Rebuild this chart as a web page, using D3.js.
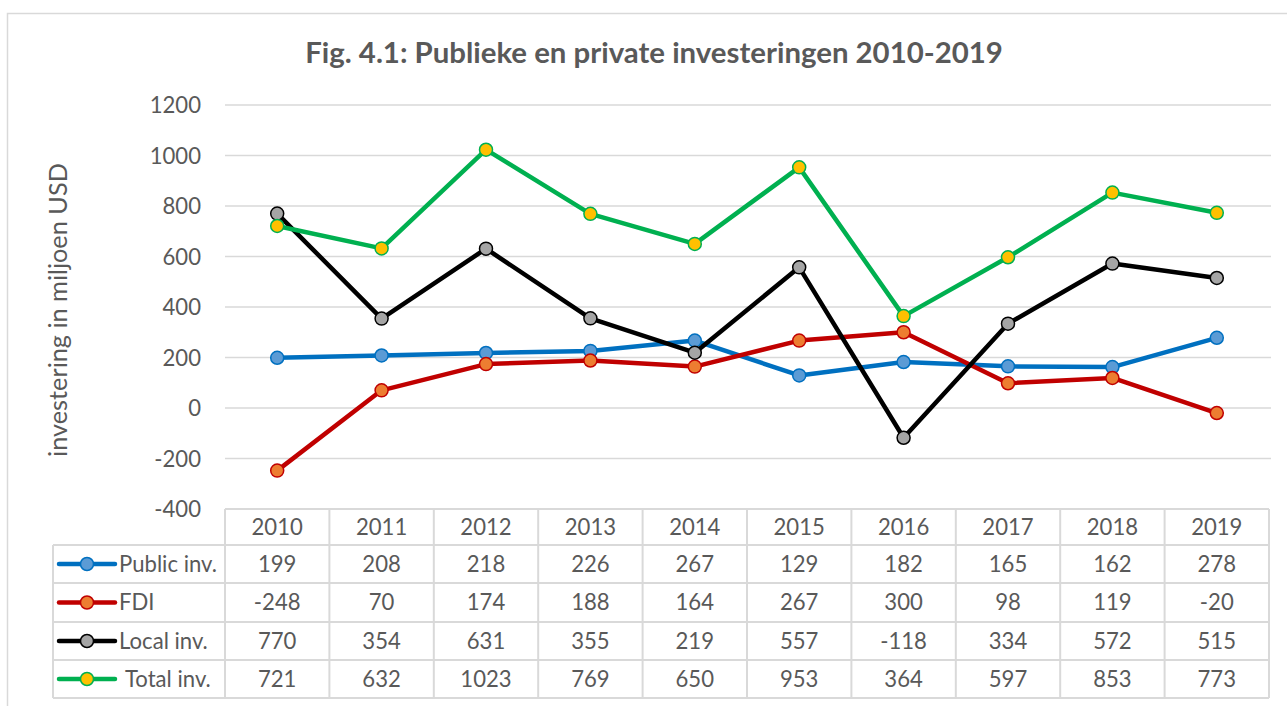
<!DOCTYPE html>
<html><head><meta charset="utf-8">
<script src="https://cdn.jsdelivr.net/npm/d3@7/dist/d3.min.js"></script>
<style>body{margin:0;background:#fff}svg{display:block}text{font-family:Lato,"Open Sans",sans-serif;fill:#595959}</style>
</head><body><svg id="c" width="1287" height="706"></svg>
<script>
const years = ["2010","2011","2012","2013","2014","2015","2016","2017","2018","2019"];
const publicInv = [199,208,218,226,267,129,182,165,162,278];
const fdi = [-248,70,174,188,164,267,300,98,119,-20];
const localInv = [770,354,631,355,219,557,-118,334,572,515];
const totalInv = [721,632,1023,769,650,953,364,597,853,773];
const yTicks = [-400,-200,0,200,400,600,800,1000,1200];
const seriesNames = ["Public inv.","FDI","Local inv.","Total inv."];
const titleText = "Fig. 4.1: Publieke en private investeringen 2010-2019";
const yLabel = "investering in miljoen USD";

const series = [
  {name:seriesNames[0], values:publicInv, line:"#0070C0", fill:"#5B9BD5"},
  {name:seriesNames[1], values:fdi, line:"#C00000", fill:"#ED7D31"},
  {name:seriesNames[2], values:localInv, line:"#000000", fill:"#A5A5A5"},
  {name:seriesNames[3], values:totalInv, line:"#00B050", fill:"#FFC000"}
];

const svg = d3.select("#c");
const grid = "#d9d9d9";
const FF = "Lato,'Open Sans',sans-serif";
svg.append("path").attr("d","M7.5,706 V13.5 H1287").attr("fill","none").attr("stroke",grid).attr("stroke-width",1.5);

const x = d3.scaleBand().domain(years).range([225,1269]);
const y = d3.scaleLinear().domain([-400,1200]).range([509,105]);

function sizeFor(str, weight, target){
  const tmp = svg.append("text").attr("font-size",20).attr("font-weight",weight).text(str);
  const w = tmp.node().getComputedTextLength(); tmp.remove();
  return 20*target/w;
}
const fsTitle = sizeFor(titleText,"bold",698);
const fsTable = sizeFor("Public inv.","normal",98);
const fsLabel = sizeFor(yLabel,"normal",294);

svg.append("text").attr("x",654).attr("y",63).attr("text-anchor","middle")
  .attr("font-weight","bold").attr("font-size",fsTitle).text(titleText);

svg.append("g").selectAll("line").data(yTicks.filter(d=>d>-400)).join("line")
  .attr("x1",225).attr("x2",1271).attr("y1",d=>y(d)).attr("y2",d=>y(d))
  .attr("stroke",grid).attr("stroke-width",1.5);

const yAxis = d3.axisLeft(y).tickValues(yTicks).tickSize(0).tickPadding(0).tickFormat(d=>String(d));
const ga = svg.append("g").attr("transform","translate(201,0)").call(yAxis);
ga.select(".domain").remove();
ga.selectAll("text").attr("font-size",fsTable).attr("fill","#595959")
  .attr("font-family",FF).attr("dy","0.35em");

svg.append("text").attr("transform","translate(67,310) rotate(-90)").attr("text-anchor","middle")
  .attr("font-size",fsLabel).text(yLabel);

const cx = d => x(d) + x.bandwidth()/2;
const lineGen = d3.line().x((d,i)=>cx(years[i])).y(d=>y(d));
series.forEach(s=>{
  svg.append("path").attr("d",lineGen(s.values)).attr("fill","none")
    .attr("stroke",s.line).attr("stroke-width",4.5).attr("stroke-linejoin","round");
  svg.append("g").selectAll("circle").data(s.values).join("circle")
    .attr("cx",(d,i)=>cx(years[i])).attr("cy",d=>y(d)).attr("r",6.5)
    .attr("fill",s.fill).attr("stroke",s.line).attr("stroke-width",1.5);
});

const rowY = [509,545,583,622,660,698];
const tb = svg.append("g");
const tl = 53, tr = 1269;
tb.append("line").attr("x1",225).attr("x2",tr).attr("y1",rowY[0]).attr("y2",rowY[0]).attr("stroke",grid).attr("stroke-width",2);
rowY.slice(1).forEach(yy=>{
  tb.append("line").attr("x1",tl).attr("x2",tr).attr("y1",yy).attr("y2",yy).attr("stroke",grid).attr("stroke-width",2);
});
tb.append("line").attr("x1",tl).attr("x2",tl).attr("y1",rowY[1]).attr("y2",rowY[5]).attr("stroke",grid).attr("stroke-width",2);
years.forEach(yr=>{
  tb.append("line").attr("x1",x(yr)).attr("x2",x(yr)).attr("y1",rowY[0]).attr("y2",rowY[5]).attr("stroke",grid).attr("stroke-width",2);
});
tb.append("line").attr("x1",tr).attr("x2",tr).attr("y1",rowY[0]).attr("y2",rowY[5]).attr("stroke",grid).attr("stroke-width",2);

tb.selectAll("text.h").data(years).join("text").attr("class","h")
  .attr("x",d=>cx(d)).attr("y",(rowY[0]+rowY[1])/2).attr("dy","0.36em")
  .attr("text-anchor","middle").attr("font-size",fsTable).text(d=>d);

series.forEach((s,k)=>{
  const mid = (rowY[k+1]+rowY[k+2])/2;
  tb.append("line").attr("x1",59).attr("x2",115).attr("y1",mid).attr("y2",mid)
    .attr("stroke",s.line).attr("stroke-width",4.5).attr("stroke-linecap","round");
  tb.append("circle").attr("cx",87).attr("cy",mid).attr("r",6.5)
    .attr("fill",s.fill).attr("stroke",s.line).attr("stroke-width",1.5);
  tb.append("text").attr("x",k===3?125:119).attr("y",mid).attr("dy","0.36em")
    .attr("font-size",fsTable).text(s.name);
  tb.append("g").selectAll("text").data(s.values).join("text")
    .attr("x",(d,i)=>cx(years[i])).attr("y",mid).attr("dy","0.36em")
    .attr("text-anchor","middle").attr("font-size",fsTable).text(d=>String(d));
});
</script></body></html>
